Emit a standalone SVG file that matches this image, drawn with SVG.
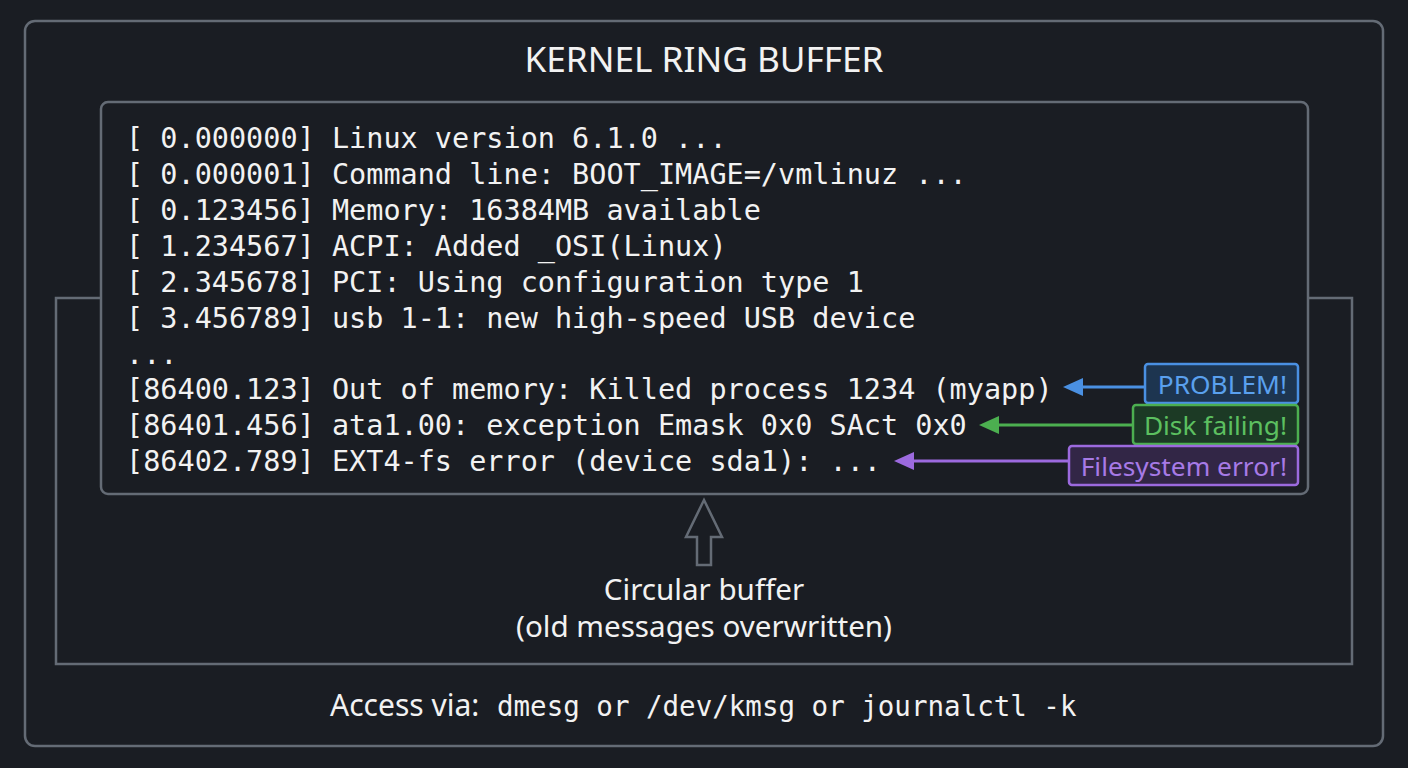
<svg xmlns="http://www.w3.org/2000/svg" width="1408" height="768" viewBox="0 0 1408 768">
<defs>
<style>
.frame{fill:none;stroke:#646b75;stroke-width:2.5}
.mono{font-family:"DejaVu Sans Mono","Liberation Mono",monospace;font-size:28.5px;fill:#f2f2f2}
.sans{font-family:"Noto Sans","Liberation Sans",sans-serif;fill:#f2f2f2}
.lbl{font-family:"Noto Sans","Liberation Sans",sans-serif;font-size:26.3px;text-anchor:end}
</style>
</defs>
<rect width="1408" height="768" fill="#1a1d23"/>
<g id="outer">
<rect x="25" y="21" width="1358" height="725" rx="10" class="frame"/>
<text x="704" y="72" class="sans" font-size="35.2" text-anchor="middle">KERNEL RING BUFFER</text>
</g>
<g id="ring-frame">
<rect x="56" y="298" width="1296" height="366" class="frame"/>
</g>
<g id="log-box">
<rect x="101" y="102" width="1207" height="392" rx="7" fill="#1a1d23" stroke="#646b75" stroke-width="2.5"/>
<text class="mono" x="126" y="148">[ 0.000000] Linux version 6.1.0 ...</text>
<text class="mono" x="126" y="184">[ 0.000001] Command line: BOOT_IMAGE=/vmlinuz ...</text>
<text class="mono" x="126" y="220">[ 0.123456] Memory: 16384MB available</text>
<text class="mono" x="126" y="256">[ 1.234567] ACPI: Added _OSI(Linux)</text>
<text class="mono" x="126" y="292">[ 2.345678] PCI: Using configuration type 1</text>
<text class="mono" x="126" y="328">[ 3.456789] usb 1-1: new high-speed USB device</text>
<text class="mono" x="126" y="364">...</text>
<text class="mono" x="126" y="399">[86400.123] Out of memory: Killed process 1234 (myapp)</text>
<text class="mono" x="126" y="435">[86401.456] ata1.00: exception Emask 0x0 SAct 0x0</text>
<text class="mono" x="126" y="471">[86402.789] EXT4-fs error (device sda1): ...</text>
</g>
<g id="connectors">
<line x1="1145" y1="387" x2="1078" y2="387" stroke="#4a90e2" stroke-width="3"/>
<path d="M1063,387 L1083,378 L1083,396 Z" fill="#4a90e2"/>
<line x1="1133" y1="425" x2="994" y2="425" stroke="#4caf50" stroke-width="3"/>
<path d="M979,425 L999,416 L999,434 Z" fill="#4caf50"/>
<line x1="1069" y1="461" x2="909" y2="461" stroke="#9c6ade" stroke-width="3"/>
<path d="M894,461 L914,452 L914,470 Z" fill="#9c6ade"/>
</g>
<g id="label-problem">
<rect x="1145" y="364" width="153" height="39" rx="3" fill="#1d3550" stroke="#4a90e2" stroke-width="2.5"/>
<text class="lbl" x="1287" y="394" fill="#5aa0ee">PROBLEM!</text>
</g>
<g id="label-disk">
<rect x="1133" y="405" width="165" height="39" rx="3" fill="#1c3a25" stroke="#4caf50" stroke-width="2.5"/>
<text class="lbl" x="1287" y="435" fill="#5cc060">Disk failing!</text>
</g>
<g id="label-fs">
<rect x="1069" y="446" width="229" height="39" rx="3" fill="#322646" stroke="#9c6ade" stroke-width="2.5"/>
<text class="lbl" x="1287" y="476" fill="#a77ae6">Filesystem error!</text>
</g>
<g id="circular">
<path d="M704,500 L722,537 L711,537 L711,565 L697,565 L697,537 L686,537 Z" fill="none" stroke="#646b75" stroke-width="2.5" stroke-linejoin="miter"/>
<text class="sans" x="704" y="600" font-size="29.6" text-anchor="middle">Circular buffer</text>
<text class="sans" x="704" y="637" font-size="29.6" text-anchor="middle">(old messages overwritten)</text>
</g>
<g id="access">
<text x="330" y="716" class="sans" font-size="30">Access via:</text>
<text x="497" y="716" font-family="DejaVu Sans Mono,Liberation Mono,monospace" fill="#f2f2f2" font-size="27.5">dmesg or /dev/kmsg or journalctl -k</text>
</g>
</svg>
